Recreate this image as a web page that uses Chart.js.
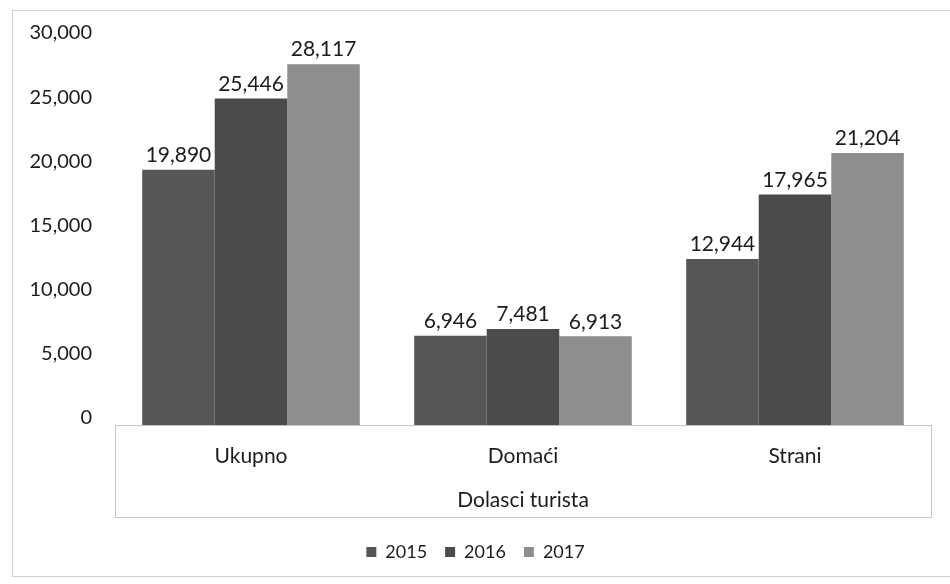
<!DOCTYPE html>
<html>
<head>
<meta charset="utf-8">
<script src="https://cdn.jsdelivr.net/npm/chart.js@4"></script>
<style>
  body { margin: 0; background: #fff; }
</style>
</head>
<body>
<canvas id="chart" width="950" height="584"></canvas>
<script>
const categories = ['Ukupno', 'Domaći', 'Strani'];
const years = ['2015', '2016', '2017'];
const values2015 = [19890, 6946, 12944];
const values2016 = [25446, 7481, 17965];
const values2017 = [28117, 6913, 21204];
const axisTitle = 'Dolasci turista';

const FONT = 'Lato, "Open Sans", sans-serif';
const TEXT = '#1c1c1c';
const fmt = v => v.toLocaleString('en-US');

// value labels above each bar
const valueLabels = {
  id: 'valueLabels',
  afterDatasetsDraw(chart) {
    const ctx = chart.ctx;
    ctx.save();
    ctx.font = '21px ' + FONT;
    ctx.fillStyle = TEXT;
    ctx.textAlign = 'center';
    ctx.textBaseline = 'bottom';
    chart.data.datasets.forEach((ds, i) => {
      chart.getDatasetMeta(i).data.forEach((bar, j) => {
        ctx.fillText(fmt(ds.data[j]), bar.x, bar.y - 4);
      });
    });
    ctx.restore();
  }
};

// outer frame and the box round the category axis
const frames = {
  id: 'frames',
  beforeDraw(chart) {
    const ctx = chart.ctx;
    ctx.save();
    ctx.fillStyle = '#fff';
    ctx.fillRect(0, 0, chart.width, chart.height);
    ctx.strokeStyle = '#d0d0d0';
    ctx.lineWidth = 1;
    ctx.strokeRect(12.5, 10.5, 960, 566);
    ctx.restore();
  },
  afterDraw(chart) {
    const ctx = chart.ctx;
    const area = chart.chartArea;
    const x = chart.scales.x;
    ctx.save();
    ctx.strokeStyle = '#c4c4c4';
    ctx.lineWidth = 1;
    ctx.strokeRect(area.left + 0.5, x.top + 0.5, area.right - area.left, 92);
    ctx.restore();
  }
};

new Chart(document.getElementById('chart'), {
  type: 'bar',
  data: {
    labels: categories,
    datasets: [
      { label: years[0], data: values2015, backgroundColor: '#565656' },
      { label: years[1], data: values2016, backgroundColor: '#4b4b4b' },
      { label: years[2], data: values2017, backgroundColor: '#8e8e8e' }
    ]
  },
  options: {
    responsive: false,
    animation: false,
    layout: { padding: { top: 40, left: 20, right: 19, bottom: 13 } },
    datasets: { bar: { categoryPercentage: 0.8, barPercentage: 1.0 } },
    scales: {
      y: {
        min: 0,
        max: 30000,
        ticks: {
          stepSize: 5000,
          padding: 23,
          labelOffset: -7,
          color: TEXT,
          font: { family: FONT, size: 20 },
          callback: v => fmt(v)
        },
        grid: { display: false, drawTicks: false },
        border: { display: false },
        afterFit(scale) { scale.width = 95; }
      },
      x: {
        ticks: {
          padding: 19,
          color: TEXT,
          font: { family: FONT, size: 21 }
        },
        grid: { display: false, drawTicks: false },
        border: { display: false },
        title: {
          display: true,
          text: axisTitle,
          color: TEXT,
          font: { family: FONT, size: 21 },
          padding: { top: 0, bottom: 12 }
        },
        afterFit(scale) { scale.height = 100; }
      }
    },
    plugins: {
      legend: {
        position: 'bottom',
        labels: {
          boxWidth: 10,
          boxHeight: 10,
          padding: 18,
          color: TEXT,
          font: { family: FONT, size: 18 }
        }
      },
      tooltip: { enabled: false }
    }
  },
  plugins: [valueLabels, frames]
});
</script>
</body>
</html>
